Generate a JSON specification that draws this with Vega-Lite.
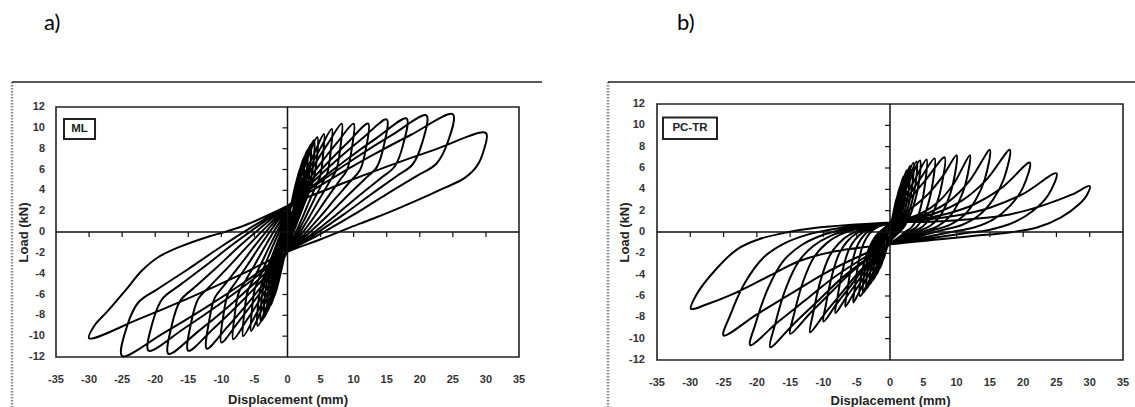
{
"$schema":"https://vega.github.io/schema/vega-lite/v6.json",
"background":"white",
"padding":{"left":9,"top":10,"right":0,"bottom":0},
"datasets":{
"ml":[
{"x":0,"y":0},
{"x":0.25,"y":1.24},{"x":0.5,"y":2.0},{"x":0.45,"y":1.2},{"x":0.25,"y":0.5},{"x":0,"y":-0.3},{"x":-0.25,"y":-1.24},{"x":-0.5,"y":-2.0},{"x":-0.45,"y":-1.2},{"x":-0.25,"y":-0.5},{"x":0,"y":0.3},
{"x":0.5,"y":2.36},{"x":1,"y":3.8},{"x":0.9,"y":2.26},{"x":0.5,"y":0.94},{"x":0,"y":-0.6},{"x":-0.5,"y":-2.25},{"x":-1,"y":-3.6},{"x":-0.9,"y":-2.13},{"x":-0.5,"y":-0.87},{"x":0,"y":0.6},
{"x":0.75,"y":3.22},{"x":1.5,"y":5.2},{"x":1.35,"y":3.1},{"x":0.75,"y":1.3},{"x":0,"y":-0.8},{"x":-0.75,"y":-3.11},{"x":-1.5,"y":-5.0},{"x":-1.35,"y":-2.97},{"x":-0.75,"y":-1.23},{"x":0,"y":0.8},
{"x":1,"y":3.92},{"x":2,"y":6.3},{"x":1.8,"y":3.75},{"x":1,"y":1.56},{"x":0,"y":-1},{"x":-1,"y":-3.86},{"x":-2,"y":-6.2},{"x":-1.8,"y":-3.68},{"x":-1,"y":-1.52},{"x":0,"y":1},
{"x":1.25,"y":4.46},{"x":2.5,"y":7.2},{"x":2.25,"y":4.3},{"x":1.25,"y":1.8},{"x":0,"y":-1.1},{"x":-1.25,"y":-4.35},{"x":-2.5,"y":-7.0},{"x":-2.25,"y":-4.17},{"x":-1.25,"y":-1.74},{"x":0,"y":1.1},
{"x":1.5,"y":4.89},{"x":3,"y":7.9},{"x":2.7,"y":4.72},{"x":1.5,"y":1.99},{"x":0,"y":-1.2},{"x":-1.5,"y":-4.72},{"x":-3,"y":-7.6},{"x":-2.7,"y":-4.52},{"x":-1.5,"y":-1.88},{"x":0,"y":1.2},
{"x":1.75,"y":5.21},{"x":3.5,"y":8.4},{"x":3.15,"y":5.01},{"x":1.75,"y":2.1},{"x":0,"y":-1.3},{"x":-1.75,"y":-5.1},{"x":-3.5,"y":-8.2},{"x":-3.15,"y":-4.88},{"x":-1.75,"y":-2.03},{"x":0,"y":1.3},
{"x":2,"y":5.47},{"x":4,"y":8.8},{"x":3.6,"y":5.23},{"x":2,"y":2.17},{"x":0,"y":-1.4},{"x":-2,"y":-5.36},{"x":-4,"y":-8.6},{"x":-3.6,"y":-5.1},{"x":-2,"y":-2.1},{"x":0,"y":1.4},
{"x":2.25,"y":5.68},{"x":4.5,"y":9.1},{"x":4.05,"y":5.39},{"x":2.25,"y":2.21},{"x":0,"y":-1.5},{"x":-2.25,"y":-5.63},{"x":-4.5,"y":-9.0},{"x":-4.05,"y":-5.33},{"x":-2.25,"y":-2.18},{"x":0,"y":1.5},
{"x":1.38,"y":3.71},{"x":2.75,"y":5.77},{"x":4.13,"y":7.66},{"x":5.5,"y":9.4},{"x":5.34,"y":7.18},{"x":4.95,"y":5.4},{"x":4.29,"y":4.41},{"x":3.3,"y":2.96},{"x":2.2,"y":1.3},{"x":1.1,"y":-0.26},{"x":0,"y":-1.7},{"x":-1.38,"y":-3.88},{"x":-2.75,"y":-5.91},{"x":-4.13,"y":-7.78},{"x":-5.5,"y":-9.5},{"x":-5.34,"y":-7.26},{"x":-4.95,"y":-5.47},{"x":-4.29,"y":-4.46},{"x":-3.3,"y":-3.0},{"x":-2.2,"y":-1.32},{"x":-1.1,"y":0.24},{"x":0,"y":1.7},
{"x":1.68,"y":4.0},{"x":3.35,"y":6.13},{"x":5.03,"y":8.1},{"x":6.7,"y":9.9},{"x":6.5,"y":7.56},{"x":6.03,"y":5.69},{"x":5.23,"y":4.64},{"x":4.02,"y":3.11},{"x":2.68,"y":1.36},{"x":1.34,"y":-0.28},{"x":0,"y":-1.8},{"x":-1.68,"y":-4.1},{"x":-3.35,"y":-6.23},{"x":-5.03,"y":-8.2},{"x":-6.7,"y":-10.0},{"x":-6.5,"y":-7.62},{"x":-6.03,"y":-5.72},{"x":-5.23,"y":-4.65},{"x":-4.02,"y":-3.1},{"x":-2.68,"y":-1.31},{"x":-1.34,"y":0.35},{"x":0,"y":1.9},
{"x":2.05,"y":4.28},{"x":4.1,"y":6.49},{"x":6.15,"y":8.53},{"x":8.2,"y":10.4},{"x":7.95,"y":7.94},{"x":7.38,"y":5.97},{"x":6.4,"y":4.87},{"x":4.92,"y":3.27},{"x":3.28,"y":1.42},{"x":1.64,"y":-0.3},{"x":0,"y":-1.9},{"x":-2.05,"y":-4.25},{"x":-4.1,"y":-6.44},{"x":-6.15,"y":-8.45},{"x":-8.2,"y":-10.3},{"x":-7.95,"y":-7.82},{"x":-7.38,"y":-5.84},{"x":-6.4,"y":-4.72},{"x":-4.92,"y":-3.11},{"x":-3.28,"y":-1.25},{"x":-1.64,"y":0.49},{"x":0,"y":2.1},
{"x":2.5,"y":4.42},{"x":5,"y":6.58},{"x":7.5,"y":8.57},{"x":10,"y":10.4},{"x":9.7,"y":7.94},{"x":9,"y":5.97},{"x":7.8,"y":4.87},{"x":6,"y":3.27},{"x":4,"y":1.42},{"x":2,"y":-0.3},{"x":0,"y":-1.9},{"x":-2.5,"y":-4.34},{"x":-5,"y":-6.6},{"x":-7.5,"y":-8.69},{"x":-10,"y":-10.6},{"x":-9.7,"y":-8.02},{"x":-9,"y":-5.96},{"x":-7.8,"y":-4.8},{"x":-6,"y":-3.12},{"x":-4,"y":-1.18},{"x":-2,"y":0.62},{"x":0,"y":2.3},
{"x":3.05,"y":4.57},{"x":6.1,"y":6.67},{"x":9.15,"y":8.62},{"x":12.2,"y":10.4},{"x":11.83,"y":7.94},{"x":10.98,"y":5.97},{"x":9.52,"y":4.87},{"x":7.32,"y":3.27},{"x":4.88,"y":1.42},{"x":2.44,"y":-0.3},{"x":0,"y":-1.9},{"x":-3.05,"y":-4.5},{"x":-6.1,"y":-6.92},{"x":-9.15,"y":-9.15},{"x":-12.2,"y":-11.2},{"x":-11.83,"y":-8.48},{"x":-10.98,"y":-6.3},{"x":-9.52,"y":-5.08},{"x":-7.32,"y":-3.31},{"x":-4.88,"y":-1.27},{"x":-2.44,"y":0.63},{"x":0,"y":2.4},
{"x":3.75,"y":4.75},{"x":7.5,"y":6.94},{"x":11.25,"y":8.95},{"x":15,"y":10.8},{"x":14.55,"y":8.26},{"x":13.5,"y":6.23},{"x":11.7,"y":5.09},{"x":9,"y":3.43},{"x":6,"y":1.53},{"x":3,"y":-0.25},{"x":0,"y":-1.9},{"x":-3.75,"y":-4.56},{"x":-7.5,"y":-7.03},{"x":-11.25,"y":-9.31},{"x":-15,"y":-11.4},{"x":-14.55,"y":-8.64},{"x":-13.5,"y":-6.43},{"x":-11.7,"y":-5.19},{"x":-9,"y":-3.4},{"x":-6,"y":-1.33},{"x":-3,"y":0.61},{"x":0,"y":2.4},
{"x":4.5,"y":4.78},{"x":9,"y":6.99},{"x":13.5,"y":9.03},{"x":18,"y":10.9},{"x":17.46,"y":8.34},{"x":16.2,"y":6.29},{"x":14.04,"y":5.14},{"x":10.8,"y":3.48},{"x":7.2,"y":1.56},{"x":3.6,"y":-0.24},{"x":0,"y":-1.9},{"x":-4.5,"y":-4.64},{"x":-9,"y":-7.19},{"x":-13.5,"y":-9.54},{"x":-18,"y":-11.7},{"x":-17.46,"y":-8.86},{"x":-16.2,"y":-6.59},{"x":-14.04,"y":-5.31},{"x":-10.8,"y":-3.46},{"x":-7.2,"y":-1.33},{"x":-3.6,"y":0.65},{"x":0,"y":2.5},
{"x":5.25,"y":4.94},{"x":10.5,"y":7.2},{"x":15.75,"y":9.29},{"x":21,"y":11.2},{"x":20.37,"y":8.58},{"x":18.9,"y":6.48},{"x":16.38,"y":5.31},{"x":12.6,"y":3.6},{"x":8.4,"y":1.64},{"x":4.2,"y":-0.2},{"x":0,"y":-1.9},{"x":-5.25,"y":-4.56},{"x":-10.5,"y":-7.03},{"x":-15.75,"y":-9.31},{"x":-21,"y":-11.4},{"x":-20.37,"y":-8.62},{"x":-18.9,"y":-6.4},{"x":-16.38,"y":-5.15},{"x":-12.6,"y":-3.34},{"x":-8.4,"y":-1.25},{"x":-4.2,"y":0.69},{"x":0,"y":2.5},
{"x":6.25,"y":4.96},{"x":12.5,"y":7.25},{"x":18.75,"y":9.36},{"x":25,"y":11.3},{"x":24.25,"y":8.66},{"x":22.5,"y":6.55},{"x":19.5,"y":5.36},{"x":15,"y":3.64},{"x":10,"y":1.66},{"x":5,"y":-0.18},{"x":0,"y":-1.9},{"x":-6.25,"y":-4.7},{"x":-12.5,"y":-7.3},{"x":-18.75,"y":-9.7},{"x":-25,"y":-11.9},{"x":-24.25,"y":-9.02},{"x":-22.5,"y":-6.72},{"x":-19.5,"y":-5.42},{"x":-15,"y":-3.55},{"x":-10,"y":-1.39},{"x":-5,"y":0.63},{"x":0,"y":2.5},
{"x":7.5,"y":4.46},{"x":15,"y":6.28},{"x":22.5,"y":7.96},{"x":30,"y":9.5},{"x":29.7,"y":7.9},{"x":28.6,"y":6.3},{"x":26.8,"y":5.2},{"x":24,"y":4.3},{"x":20.5,"y":3.3},{"x":16.5,"y":2.2},{"x":12.8,"y":1.25},{"x":9.5,"y":0.45},{"x":5,"y":-0.7},{"x":0,"y":-1.9},{"x":-7.5,"y":-4.22},{"x":-15,"y":-6.38},{"x":-22.5,"y":-8.37},{"x":-30,"y":-10.2},{"x":-29.2,"y":-9.0},{"x":-27.2,"y":-7.6},{"x":-24.5,"y":-5.6},{"x":-22,"y":-3.7},{"x":-19.5,"y":-2.4},{"x":-16,"y":-1.35},{"x":-12,"y":-0.45},{"x":-7,"y":0.5},{"x":0,"y":2.5}
],
"pc":[
{"x":0,"y":0},
{"x":0.25,"y":0.9},{"x":0.5,"y":1.8},{"x":0.45,"y":0.96},{"x":0.25,"y":0.12},{"x":0,"y":-0.3},{"x":-0.25,"y":-0.9},{"x":-0.5,"y":-1.5},{"x":-0.45,"y":-0.78},{"x":-0.25,"y":-0.06},{"x":0,"y":0.3},
{"x":0.5,"y":1.75},{"x":1,"y":3.2},{"x":0.9,"y":1.72},{"x":0.5,"y":0.24},{"x":0,"y":-0.5},{"x":-0.5,"y":-1.55},{"x":-1,"y":-2.6},{"x":-0.9,"y":-1.36},{"x":-0.5,"y":-0.12},{"x":0,"y":0.5},
{"x":0.75,"y":2.4},{"x":1.5,"y":4.3},{"x":1.35,"y":2.34},{"x":0.75,"y":0.38},{"x":0,"y":-0.6},{"x":-0.75,"y":-2.0},{"x":-1.5,"y":-3.4},{"x":-1.35,"y":-1.8},{"x":-0.75,"y":-0.2},{"x":0,"y":0.6},
{"x":1,"y":2.9},{"x":2,"y":5.2},{"x":1.8,"y":2.84},{"x":1,"y":0.48},{"x":0,"y":-0.7},{"x":-1,"y":-2.35},{"x":-2,"y":-4.0},{"x":-1.8,"y":-2.12},{"x":-1,"y":-0.24},{"x":0,"y":0.7},
{"x":1.25,"y":3.25},{"x":2.5,"y":5.8},{"x":2.25,"y":3.18},{"x":1.25,"y":0.56},{"x":0,"y":-0.75},{"x":-1.25,"y":-2.63},{"x":-2.5,"y":-4.5},{"x":-2.25,"y":-2.4},{"x":-1.25,"y":-0.3},{"x":0,"y":0.75},
{"x":1.5,"y":3.48},{"x":3,"y":6.2},{"x":2.7,"y":3.4},{"x":1.5,"y":0.6},{"x":0,"y":-0.8},{"x":-1.5,"y":-2.85},{"x":-3,"y":-4.9},{"x":-2.7,"y":-2.62},{"x":-1.5,"y":-0.34},{"x":0,"y":0.8},
{"x":1.75,"y":3.65},{"x":3.5,"y":6.5},{"x":3.15,"y":3.56},{"x":1.75,"y":0.62},{"x":0,"y":-0.85},{"x":-1.75,"y":-3.08},{"x":-3.5,"y":-5.3},{"x":-3.15,"y":-2.84},{"x":-1.75,"y":-0.38},{"x":0,"y":0.85},
{"x":2,"y":3.73},{"x":4,"y":6.6},{"x":3.6,"y":3.62},{"x":2,"y":0.64},{"x":0,"y":-0.85},{"x":-2,"y":-3.28},{"x":-4,"y":-5.7},{"x":-3.6,"y":-3.08},{"x":-2,"y":-0.46},{"x":0,"y":0.85},
{"x":2.25,"y":3.78},{"x":4.5,"y":6.7},{"x":4.05,"y":3.66},{"x":2.25,"y":0.62},{"x":0,"y":-0.9},{"x":-2.25,"y":-3.45},{"x":-4.5,"y":-6.0},{"x":-4.05,"y":-3.24},{"x":-2.25,"y":-0.48},{"x":0,"y":0.9},
{"x":1.83,"y":2.85},{"x":3.67,"y":4.85},{"x":5.5,"y":6.8},{"x":5.23,"y":4.35},{"x":4.73,"y":2.61},{"x":4.07,"y":1.27},{"x":3.3,"y":0.48},{"x":2.31,"y":0.01},{"x":1.21,"y":-0.55},{"x":0,"y":-1.1},{"x":-1.1,"y":-1.93},{"x":-2.2,"y":-2.92},{"x":-3.3,"y":-4.13},{"x":-4.4,"y":-5.34},{"x":-5.5,"y":-6.6},{"x":-5.28,"y":-5.25},{"x":-4.79,"y":-3.08},{"x":-4.18,"y":-1.43},{"x":-3.52,"y":-0.53},{"x":-2.75,"y":0.08},{"x":-1.65,"y":0.53},{"x":0,"y":0.9},
{"x":2.23,"y":2.88},{"x":4.49,"y":4.92},{"x":6.7,"y":6.9},{"x":6.37,"y":4.42},{"x":5.76,"y":2.66},{"x":4.96,"y":1.3},{"x":4.02,"y":0.5},{"x":2.81,"y":0.02},{"x":1.47,"y":-0.54},{"x":0,"y":-1.1},{"x":-1.34,"y":-1.99},{"x":-2.68,"y":-3.05},{"x":-4.02,"y":-4.35},{"x":-5.36,"y":-5.64},{"x":-6.7,"y":-7.0},{"x":-6.43,"y":-5.58},{"x":-5.83,"y":-3.29},{"x":-5.09,"y":-1.55},{"x":-4.29,"y":-0.6},{"x":-3.35,"y":0.03},{"x":-2.01,"y":0.51},{"x":0,"y":0.9},
{"x":2.71,"y":2.91},{"x":5.49,"y":4.99},{"x":8.2,"y":7.0},{"x":7.79,"y":4.49},{"x":7.05,"y":2.71},{"x":6.07,"y":1.33},{"x":4.92,"y":0.52},{"x":3.44,"y":0.03},{"x":1.8,"y":-0.53},{"x":0,"y":-1.1},{"x":-1.64,"y":-2.08},{"x":-3.28,"y":-3.25},{"x":-4.92,"y":-4.68},{"x":-6.56,"y":-6.11},{"x":-8.2,"y":-7.6},{"x":-7.87,"y":-6.07},{"x":-7.13,"y":-3.61},{"x":-6.23,"y":-1.74},{"x":-5.25,"y":-0.72},{"x":-4.1,"y":-0.04},{"x":-2.46,"y":0.48},{"x":0,"y":0.9},
{"x":2,"y":1.66},{"x":4,"y":2.6},{"x":6,"y":3.74},{"x":8,"y":5.31},{"x":10,"y":7.2},{"x":9.5,"y":4.63},{"x":8.6,"y":2.8},{"x":7.4,"y":1.39},{"x":6,"y":0.56},{"x":4.2,"y":0.06},{"x":2.2,"y":-0.52},{"x":0,"y":-1.1},{"x":-2,"y":-2.2},{"x":-4,"y":-3.51},{"x":-6,"y":-5.12},{"x":-8,"y":-6.72},{"x":-10,"y":-8.4},{"x":-9.6,"y":-6.73},{"x":-8.7,"y":-4.03},{"x":-7.6,"y":-1.98},{"x":-6.4,"y":-0.87},{"x":-5,"y":-0.12},{"x":-3,"y":0.44},{"x":0,"y":0.9},
{"x":2.4,"y":1.22},{"x":4.8,"y":1.78},{"x":7.2,"y":2.79},{"x":9.6,"y":4.55},{"x":12,"y":7.2},{"x":11.4,"y":4.63},{"x":10.32,"y":2.8},{"x":8.88,"y":1.39},{"x":7.2,"y":0.56},{"x":5.04,"y":0.06},{"x":2.64,"y":-0.52},{"x":0,"y":-1.1},{"x":-2.4,"y":-2.35},{"x":-4.8,"y":-3.84},{"x":-7.2,"y":-5.67},{"x":-9.6,"y":-7.49},{"x":-12,"y":-9.4},{"x":-11.52,"y":-7.55},{"x":-10.44,"y":-4.56},{"x":-9.12,"y":-2.29},{"x":-7.68,"y":-1.06},{"x":-6,"y":-0.23},{"x":-3.6,"y":0.39},{"x":0,"y":0.9},
{"x":3,"y":1.24},{"x":6,"y":1.85},{"x":9,"y":2.94},{"x":12,"y":4.84},{"x":15,"y":7.7},{"x":14.25,"y":4.97},{"x":12.9,"y":3.04},{"x":11.1,"y":1.54},{"x":9,"y":0.66},{"x":6.3,"y":0.13},{"x":3.3,"y":-0.48},{"x":0,"y":-1.1},{"x":-3,"y":-2.37},{"x":-6,"y":-3.89},{"x":-9,"y":-5.75},{"x":-12,"y":-7.61},{"x":-15,"y":-9.55},{"x":-14.4,"y":-7.67},{"x":-13.05,"y":-4.64},{"x":-11.4,"y":-2.34},{"x":-9.6,"y":-1.09},{"x":-7.5,"y":-0.25},{"x":-4.5,"y":0.38},{"x":0,"y":0.9},
{"x":3.6,"y":1.24},{"x":7.2,"y":1.85},{"x":10.8,"y":2.94},{"x":14.4,"y":4.84},{"x":18,"y":7.7},{"x":17.1,"y":4.97},{"x":15.48,"y":3.04},{"x":13.32,"y":1.54},{"x":10.8,"y":0.66},{"x":7.56,"y":0.13},{"x":3.96,"y":-0.48},{"x":0,"y":-1.1},{"x":-3.6,"y":-2.56},{"x":-7.2,"y":-4.3},{"x":-10.8,"y":-6.44},{"x":-14.4,"y":-8.57},{"x":-18,"y":-10.8},{"x":-17.28,"y":-8.69},{"x":-15.66,"y":-5.3},{"x":-13.68,"y":-2.73},{"x":-11.52,"y":-1.32},{"x":-9,"y":-0.39},{"x":-5.4,"y":0.32},{"x":0,"y":0.9},
{"x":4.2,"y":1.18},{"x":8.4,"y":1.68},{"x":12.6,"y":2.58},{"x":16.8,"y":4.15},{"x":21,"y":6.5},{"x":19.95,"y":4.14},{"x":18.06,"y":2.47},{"x":15.54,"y":1.18},{"x":12.6,"y":0.42},{"x":8.82,"y":-0.04},{"x":4.62,"y":-0.57},{"x":0,"y":-1.1},{"x":-4.2,"y":-2.53},{"x":-8.4,"y":-4.24},{"x":-12.6,"y":-6.33},{"x":-16.8,"y":-8.42},{"x":-21,"y":-10.6},{"x":-20.16,"y":-8.53},{"x":-18.27,"y":-5.2},{"x":-15.96,"y":-2.67},{"x":-13.44,"y":-1.29},{"x":-10.5,"y":-0.37},{"x":-6.3,"y":0.33},{"x":0,"y":0.9},
{"x":5,"y":1.13},{"x":10,"y":1.54},{"x":15,"y":2.28},{"x":20,"y":3.57},{"x":25,"y":5.5},{"x":23.75,"y":3.45},{"x":21.5,"y":2.0},{"x":18.5,"y":0.88},{"x":15,"y":0.22},{"x":10.5,"y":-0.18},{"x":5.5,"y":-0.64},{"x":0,"y":-1.1},{"x":-5,"y":-2.39},{"x":-10,"y":-3.94},{"x":-15,"y":-5.83},{"x":-20,"y":-7.72},{"x":-25,"y":-9.7},{"x":-24,"y":-7.79},{"x":-21.75,"y":-4.72},{"x":-19,"y":-2.39},{"x":-16,"y":-1.11},{"x":-12.5,"y":-0.27},{"x":-7.5,"y":0.37},{"x":0,"y":0.9},
{"x":6,"y":0.95},{"x":12,"y":1.2},{"x":18,"y":1.65},{"x":23,"y":2.5},{"x":27.3,"y":3.5},{"x":30,"y":4.3},{"x":29.6,"y":3.5},{"x":28.4,"y":2.6},{"x":25.7,"y":1.37},{"x":22.1,"y":0.42},{"x":17.9,"y":-0.05},{"x":12.7,"y":-0.36},{"x":7.5,"y":-0.68},{"x":0,"y":-1.15},{"x":-8.2,"y":-1.8},{"x":-13.5,"y":-2.7},{"x":-18.7,"y":-4.3},{"x":-23.9,"y":-5.9},{"x":-27.6,"y":-6.8},{"x":-29.9,"y":-7.2},{"x":-29.1,"y":-5.9},{"x":-26,"y":-3.4},{"x":-22.9,"y":-1.6},{"x":-19.7,"y":-0.68},{"x":-15.6,"y":-0.05},{"x":-10.8,"y":0.42},{"x":0,"y":0.9}
],
"xt":[{"v":-30},{"v":-25},{"v":-20},{"v":-15},{"v":-10},{"v":-5},{"v":5},{"v":10},{"v":15},{"v":20},{"v":25},{"v":30}],
"yt":[{"v":-10},{"v":-8},{"v":-6},{"v":-4},{"v":-2},{"v":2},{"v":4},{"v":6},{"v":8},{"v":10}],
"xl":[{"v":-35,"t":"-35"},{"v":-30,"t":"-30"},{"v":-25,"t":"-25"},{"v":-20,"t":"-20"},{"v":-15,"t":"-15"},{"v":-10,"t":"-10"},{"v":-5,"t":"-5"},{"v":0,"t":"0"},{"v":5,"t":"5"},{"v":10,"t":"10"},{"v":15,"t":"15"},{"v":20,"t":"20"},{"v":25,"t":"25"},{"v":30,"t":"30"},{"v":35,"t":"35"}],
"yl":[{"v":-12,"t":"-12"},{"v":-10,"t":"-10"},{"v":-8,"t":"-8"},{"v":-6,"t":"-6"},{"v":-4,"t":"-4"},{"v":-2,"t":"-2"},{"v":0,"t":"0"},{"v":2,"t":"2"},{"v":4,"t":"4"},{"v":6,"t":"6"},{"v":8,"t":"8"},{"v":10,"t":"10"},{"v":12,"t":"12"}]
},
"hconcat":[
{
"width":463,"height":250,
"title":{"text":"a)","dx":-12,"offset":46},
"layer":[
{"data":{"name":"ml"},"mark":{"type":"line","interpolate":"catmull-rom","stroke":"#000","strokeWidth":2},
 "encoding":{
  "x":{"field":"x","type":"quantitative","scale":{"domain":[-35,35],"nice":false,"zero":false},
   "axis":{"labels":false,"title":"Displacement (mm)","titlePadding":36}},
  "y":{"field":"y","type":"quantitative","scale":{"domain":[-12,12],"nice":false,"zero":false},
   "axis":{"labels":false,"title":"Load (kN)","titlePadding":26}},
  "order":{"value":null}}},
{"data":{"name":"xl"},"mark":{"type":"text","font":"Liberation Sans","fontWeight":"bold","fontSize":11,"color":"#333","align":"center","baseline":"middle"},
 "encoding":{"x":{"field":"v","type":"quantitative","scale":{"domain":[-35,35],"nice":false,"zero":false}},
  "y":{"datum":-14.2,"type":"quantitative","scale":{"domain":[-12,12],"nice":false,"zero":false}},"text":{"field":"t"}}},
{"data":{"name":"yl"},"mark":{"type":"text","font":"Liberation Sans","fontWeight":"bold","fontSize":11,"color":"#333","align":"right","baseline":"middle","dx":-11},
 "encoding":{"y":{"field":"v","type":"quantitative","scale":{"domain":[-12,12],"nice":false,"zero":false}},
  "x":{"datum":-35,"type":"quantitative","scale":{"domain":[-35,35],"nice":false,"zero":false}},"text":{"field":"t"}}},
{"data":{"values":[{}]},"mark":{"type":"rule","stroke":"#8a8a8a","strokeWidth":2.5,"strokeDash":[1.5,1.5]},
 "encoding":{"x":{"datum":-41.65,"type":"quantitative","scale":{"domain":[-35,35],"nice":false,"zero":false}},
  "y":{"datum":14.4,"type":"quantitative","scale":{"domain":[-12,12],"nice":false,"zero":false}},"y2":{"datum":-18}}},
{"data":{"values":[{}]},"mark":{"type":"rule","stroke":"#222","strokeWidth":1.5},
 "encoding":{"x":{"datum":-41.65,"type":"quantitative","scale":{"domain":[-35,35],"nice":false,"zero":false}},"x2":{"datum":38.48},
  "y":{"datum":14.4,"type":"quantitative","scale":{"domain":[-12,12],"nice":false,"zero":false}}}},
{"data":{"values":[{}]},"mark":{"type":"rule","stroke":"#111","strokeWidth":1.5},
 "encoding":{"x":{"datum":0,"type":"quantitative","scale":{"domain":[-35,35],"nice":false,"zero":false}}}},
{"data":{"values":[{}]},"mark":{"type":"rule","stroke":"#111","strokeWidth":1.5},
 "encoding":{"y":{"datum":0,"type":"quantitative","scale":{"domain":[-12,12],"nice":false,"zero":false}}}},
{"data":{"name":"xt"},"mark":{"type":"rule","stroke":"#111","strokeWidth":1.2},
 "encoding":{"x":{"field":"v","type":"quantitative","scale":{"domain":[-35,35],"nice":false,"zero":false}},
  "y":{"datum":0,"type":"quantitative","scale":{"domain":[-12,12],"nice":false,"zero":false}},"y2":{"datum":-0.48}}},
{"data":{"name":"yt"},"mark":{"type":"rule","stroke":"#111","strokeWidth":1.2},
 "encoding":{"y":{"field":"v","type":"quantitative","scale":{"domain":[-12,12],"nice":false,"zero":false}},
  "x":{"datum":-0.76,"type":"quantitative","scale":{"domain":[-35,35],"nice":false,"zero":false}},"x2":{"datum":0}}},
{"data":{"values":[{}]},"mark":{"type":"rect","fill":"white","stroke":"#222","strokeWidth":2},
 "encoding":{"x":{"datum":-33.79,"type":"quantitative","scale":{"domain":[-35,35],"nice":false,"zero":false}},"x2":{"datum":-29.1},
  "y":{"datum":10.85,"type":"quantitative","scale":{"domain":[-12,12],"nice":false,"zero":false}},"y2":{"datum":8.93}}},
{"data":{"values":[{}]},"mark":{"type":"text","font":"Liberation Sans","fontWeight":"bold","fontSize":11.5,"color":"#222","align":"center","baseline":"middle"},
 "encoding":{"x":{"datum":-31.45,"type":"quantitative","scale":{"domain":[-35,35],"nice":false,"zero":false}},
  "y":{"datum":9.89,"type":"quantitative","scale":{"domain":[-12,12],"nice":false,"zero":false}},"text":{"value":"ML"}}}
]
},
{
"width":466,"height":256,
"title":{"text":"b)","dx":20,"offset":46},
"layer":[
{"data":{"name":"pc"},"mark":{"type":"line","interpolate":"catmull-rom","stroke":"#000","strokeWidth":2},
 "encoding":{
  "x":{"field":"x","type":"quantitative","scale":{"domain":[-35,35],"nice":false,"zero":false},
   "axis":{"labels":false,"title":"Displacement (mm)","titlePadding":34}},
  "y":{"field":"y","type":"quantitative","scale":{"domain":[-12,12],"nice":false,"zero":false},
   "axis":{"labels":false,"title":"Load (kN)","titlePadding":26}},
  "order":{"value":null}}},
{"data":{"name":"xl"},"mark":{"type":"text","font":"Liberation Sans","fontWeight":"bold","fontSize":11,"color":"#333","align":"center","baseline":"middle"},
 "encoding":{"x":{"field":"v","type":"quantitative","scale":{"domain":[-35,35],"nice":false,"zero":false}},
  "y":{"datum":-14.16,"type":"quantitative","scale":{"domain":[-12,12],"nice":false,"zero":false}},"text":{"field":"t"}}},
{"data":{"name":"yl"},"mark":{"type":"text","font":"Liberation Sans","fontWeight":"bold","fontSize":11,"color":"#333","align":"right","baseline":"middle","dx":-12},
 "encoding":{"y":{"field":"v","type":"quantitative","scale":{"domain":[-12,12],"nice":false,"zero":false}},
  "x":{"datum":-35,"type":"quantitative","scale":{"domain":[-35,35],"nice":false,"zero":false}},"text":{"field":"t"}}},
{"data":{"values":[{}]},"mark":{"type":"rule","stroke":"#8a8a8a","strokeWidth":2.5,"strokeDash":[1.5,1.5]},
 "encoding":{"x":{"datum":-42.36,"type":"quantitative","scale":{"domain":[-35,35],"nice":false,"zero":false}},
  "y":{"datum":14.06,"type":"quantitative","scale":{"domain":[-12,12],"nice":false,"zero":false}},"y2":{"datum":-18}}},
{"data":{"values":[{}]},"mark":{"type":"rule","stroke":"#222","strokeWidth":1.5},
 "encoding":{"x":{"datum":-42.36,"type":"quantitative","scale":{"domain":[-35,35],"nice":false,"zero":false}},"x2":{"datum":36.9},
  "y":{"datum":14.06,"type":"quantitative","scale":{"domain":[-12,12],"nice":false,"zero":false}}}},
{"data":{"values":[{}]},"mark":{"type":"rule","stroke":"#111","strokeWidth":1.5},
 "encoding":{"x":{"datum":0,"type":"quantitative","scale":{"domain":[-35,35],"nice":false,"zero":false}}}},
{"data":{"values":[{}]},"mark":{"type":"rule","stroke":"#111","strokeWidth":1.5},
 "encoding":{"y":{"datum":0,"type":"quantitative","scale":{"domain":[-12,12],"nice":false,"zero":false}}}},
{"data":{"name":"xt"},"mark":{"type":"rule","stroke":"#111","strokeWidth":1.2},
 "encoding":{"x":{"field":"v","type":"quantitative","scale":{"domain":[-35,35],"nice":false,"zero":false}},
  "y":{"datum":0,"type":"quantitative","scale":{"domain":[-12,12],"nice":false,"zero":false}},"y2":{"datum":-0.47}}},
{"data":{"name":"yt"},"mark":{"type":"rule","stroke":"#111","strokeWidth":1.2},
 "encoding":{"y":{"field":"v","type":"quantitative","scale":{"domain":[-12,12],"nice":false,"zero":false}},
  "x":{"datum":-0.75,"type":"quantitative","scale":{"domain":[-35,35],"nice":false,"zero":false}},"x2":{"datum":0}}},
{"data":{"values":[{}]},"mark":{"type":"rect","fill":"white","stroke":"#222","strokeWidth":2},
 "encoding":{"x":{"datum":-34.1,"type":"quantitative","scale":{"domain":[-35,35],"nice":false,"zero":false}},"x2":{"datum":-25.99},
  "y":{"datum":10.73,"type":"quantitative","scale":{"domain":[-12,12],"nice":false,"zero":false}},"y2":{"datum":8.72}}},
{"data":{"values":[{}]},"mark":{"type":"text","font":"Liberation Sans","fontWeight":"bold","fontSize":11.5,"color":"#222","align":"center","baseline":"middle"},
 "encoding":{"x":{"datum":-30.05,"type":"quantitative","scale":{"domain":[-35,35],"nice":false,"zero":false}},
  "y":{"datum":9.73,"type":"quantitative","scale":{"domain":[-12,12],"nice":false,"zero":false}},"text":{"value":"PC-TR"}}}
]
}
],
"spacing":138,
"bounds":"flush",
"center":true,
"config":{
 "view":{"stroke":"#222","strokeWidth":1.6},
 "axis":{"grid":false,"ticks":false,"domain":false,"titleFont":"Liberation Sans","titleFontWeight":"bold","titleFontSize":13,"titleColor":"#222"},
 "title":{"font":"Lato","fontSize":22,"fontWeight":"normal","anchor":"start","frame":"group","color":"#000"}
}
}
